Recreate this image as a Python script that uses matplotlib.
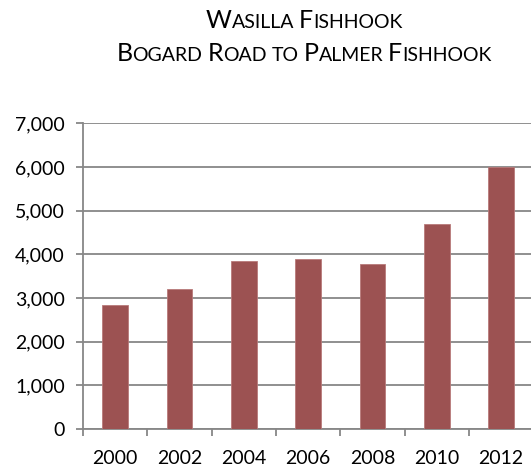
import matplotlib.pyplot as plt
from matplotlib.ticker import FuncFormatter

years = ["2000", "2002", "2004", "2006", "2008", "2010", "2012"]
traffic = [2845, 3210, 3850, 3890, 3770, 4705, 5990]

bar_color = "#9C5252"
grid_color = "#878787"
font = "Lato"

fig = plt.figure(figsize=(5.31, 4.68), dpi=100)
ax = fig.add_axes([0.1563, 0.0833, 0.8477, 0.6532])

x = range(len(years))
ax.bar(x, traffic, width=0.40, color=bar_color, edgecolor="#B87A7A", linewidth=0.6, zorder=3)

ax.set_xlim(-0.5, len(years) - 0.5)
ax.set_ylim(0, 7000)
ax.set_yticks(range(0, 7001, 1000))
ax.yaxis.set_major_formatter(FuncFormatter(lambda v, p: f"{int(v):,}"))
ax.set_xticks([i - 0.5 for i in range(len(years))], minor=False)
ax.set_xticklabels([])
ax.set_xticks(list(x), minor=True)
ax.set_xticklabels(years, minor=True, fontname=font, fontsize=14)
ax.tick_params(axis="x", which="minor", length=0, pad=15)
ax.tick_params(axis="x", which="major", length=5, width=1.3, color=grid_color)
ax.tick_params(axis="y", length=5, width=1.3, color=grid_color, pad=8)
for lab in ax.get_yticklabels():
    lab.set_fontname(font)
    lab.set_fontsize(14)

ax.grid(axis="y", color=grid_color, linewidth=1.3, zorder=0)
for s in ["top", "right"]:
    ax.spines[s].set_visible(False)
for s in ["left", "bottom"]:
    ax.spines[s].set_color(grid_color)
    ax.spines[s].set_linewidth(1.3)


# small caps title, built piece by piece
def small_caps(line, y, big=18, small=14):
    pieces = []
    for wi, word in enumerate(line.split(" ")):
        if wi > 0:
            pieces.append((" ", small))
        if word.islower():
            pieces.append((word.upper(), small))
        else:
            pieces.append((word[0], big))
            if len(word) > 1:
                pieces.append((word[1:].upper(), small))
    # measure total width first
    renderer = fig.canvas.get_renderer()
    widths = []
    for txt, size in pieces:
        t = fig.text(0, 0, txt, fontname=font, fontsize=size)
        widths.append(t.get_window_extent(renderer).width)
        t.remove()
    total = sum(widths)
    cx = 304
    xpos = cx - total / 2
    for (txt, size), w in zip(pieces, widths):
        fig.text(xpos / 531, y, txt, fontname=font, fontsize=size, va="baseline", ha="left", color="black")
        xpos += w


small_caps("Wasilla Fishhook", 1 - 28 / 468)
small_caps("Bogard Road to Palmer Fishhook", 1 - 61 / 468)

fig.savefig("out.png", dpi=100)
